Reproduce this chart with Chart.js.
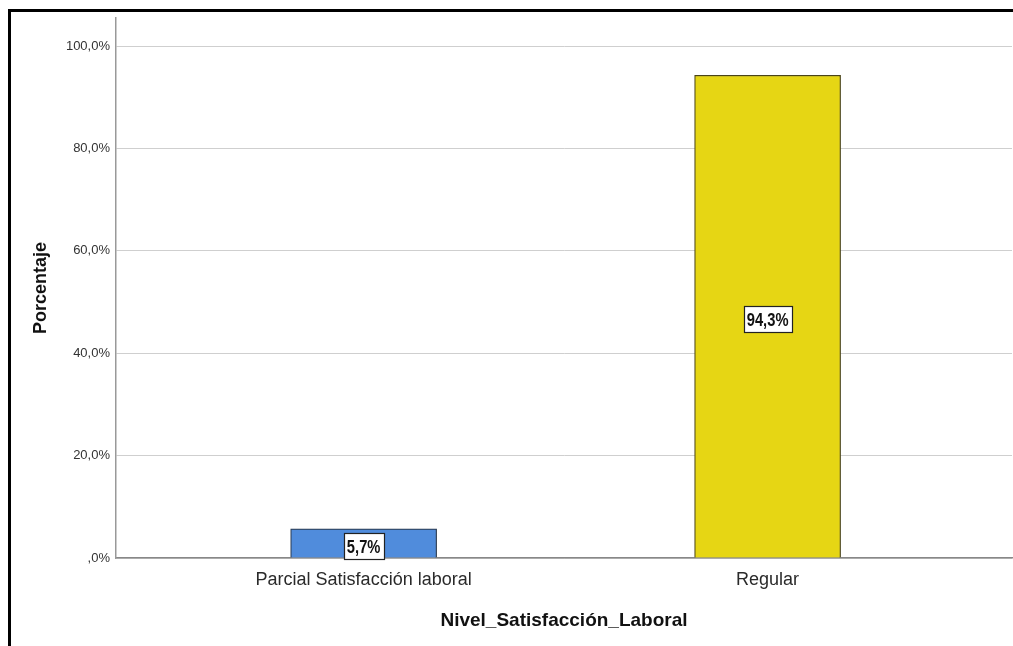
<!DOCTYPE html>
<html>
<head>
<meta charset="utf-8">
<script src="https://cdn.jsdelivr.net/npm/chart.js@4.4.1/dist/chart.umd.min.js"></script>
<style>
  html,body{margin:0;padding:0;background:#fff;}
  #wrap{position:relative;width:1013px;height:646px;}
  #frame{position:absolute;left:8px;top:9px;right:-10px;bottom:-10px;border-left:3px solid #000;border-top:3px solid #000;pointer-events:none;}
</style>
</head>
<body>
<div id="wrap">
  <canvas id="c" width="1013" height="646"></canvas>
  <div id="frame"></div>
</div>
<script>
/* ===== Data ===== */
const categories = ['Parcial Satisfacción laboral', 'Regular'];
const percentages = [5.7, 94.3];
const barColors = ['#508cdc', '#e6d614'];
const yTicks = [0, 20, 40, 60, 80, 100];

const fmt = v => (v === 0 ? '' : Math.trunc(v)) + ',' + Math.round((v % 1) * 10) + '%';

/* ===== Value labels in boxes ===== */
const boxLabels = {
  id: 'boxLabels',
  afterDatasetsDraw(chart){
    const ctx = chart.ctx;
    const meta = chart.getDatasetMeta(0);
    const sx = 0.92, sy = 1.15;
    meta.data.forEach((bar, i) => {
      const p = bar.getCenterPoint();
      const txt = fmt(percentages[i]);
      ctx.save();
      ctx.font = 'bold 16px "Liberation Sans", Arial, sans-serif';
      const w = Math.round(ctx.measureText(txt).width * sx + 6), h = 26;
      const x0 = Math.round(p.x - w/2) + .5, y0 = Math.round(p.y + 3 - h/2) + .5;
      ctx.fillStyle = '#fff';
      ctx.fillRect(x0, y0, w, h);
      ctx.strokeStyle = '#222'; ctx.lineWidth = 1.2;
      ctx.strokeRect(x0, y0, w, h);
      // condensed, tall bold text
      ctx.translate(p.x, y0 + h/2 + 1);
      ctx.scale(sx, sy);
      ctx.textAlign = 'center'; ctx.textBaseline = 'middle';
      ctx.fillStyle = '#111';
      ctx.fillText(txt, 0, 0);
      ctx.restore();
    });
  }
};

new Chart(document.getElementById('c'), {
  type: 'bar',
  data: {
    datasets: [{
      data: percentages.map((v, i) => ({x: i, y: v})),
      backgroundColor: barColors,
      borderColor: ['#2a3a50', '#4a4418'],
      borderWidth: 1.2,
      barThickness: 146
    }]
  },
  options: {
    responsive: false,
    animation: false,
    layout: { padding: { top: 18, right: 1, left: 0, bottom: 0 } },
    plugins: { legend: { display: false }, tooltip: { enabled: false } },
    scales: {
      x: {
        type: 'linear', min: -0.613, max: 1.605, offset: false,
        afterBuildTicks: s => { s.ticks = categories.map((c, i) => ({value: i})); },
        afterFit: s => { s.height = 88; },
        ticks: { callback: v => categories[v], color: '#2a2a2a', padding: 11, autoSkip: false, maxRotation: 0,
                 font: { family: '"Liberation Sans", Arial, sans-serif', size: 18 } },
        grid: { display: false, drawTicks: false },
        border: { color: '#888', width: 1.5 },
        title: { display: true, text: 'Nivel_Satisfacción_Laboral', color: '#111',
                 font: { family: '"Liberation Sans", Arial, sans-serif', size: 19, weight: 'bold' },
                 padding: { top: 0, bottom: 14 } }
      },
      y: {
        min: 0, max: 105.5,
        afterBuildTicks: s => { s.ticks = yTicks.map(v => ({value: v})); },
        afterFit: s => { s.width = 116; },
        ticks: { callback: v => fmt(v), color: '#333', padding: 6,
                 font: { family: '"Liberation Sans", Arial, sans-serif', size: 13 } },
        grid: { color: '#cfcfcf', drawTicks: false },
        border: { color: '#999', width: 1.5 },
        title: { display: true, text: 'Porcentaje', color: '#111',
                 font: { family: '"Liberation Sans", Arial, sans-serif', size: 18, weight: 'bold' },
                 padding: { top: 30, bottom: 0 } }
      }
    }
  },
  plugins: [boxLabels]
});
</script>
</body>
</html>
